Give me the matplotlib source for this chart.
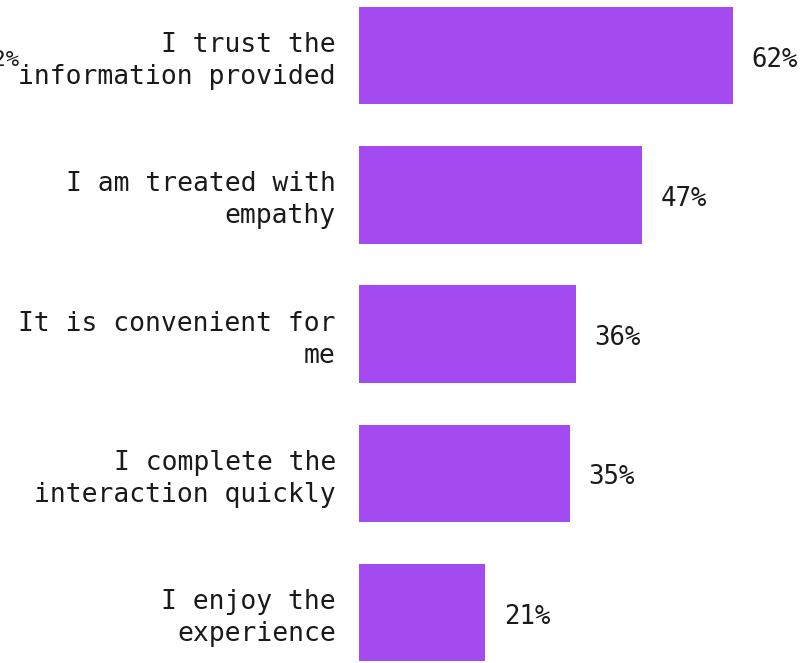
import matplotlib.pyplot as plt

reasons = [
    "I trust the\ninformation provided",
    "I am treated with\nempathy",
    "It is convenient for\nme",
    "I complete the\ninteraction quickly",
    "I enjoy the\nexperience",
]
shares = [62, 47, 36, 35, 21]

purple = "#a44af1"
plt.rcParams["font.family"] = ["DejaVu Sans Mono"]

fig = plt.figure(figsize=(8.11, 6.63), dpi=100)
ax = fig.add_axes([0, 0, 1, 1])
ypos = list(range(len(reasons)))
ax.barh(ypos, shares, height=0.7, color=purple)

for y, label, v in zip(ypos, reasons, shares):
    ax.text(-3.8, y + 0.04, label, ha="right", va="center", fontsize=19,
            multialignment="right", linespacing=1.3, color="#1a1a1a")
    ax.text(v + 3.1, y + 0.03, f"{v}%", ha="left", va="center",
            fontsize=18.5, color="#1a1a1a")

# leftover label that runs off the left edge
fig.text(20 / 811, 1 - 60 / 663, f"{shares[0]}%", ha="right", va="center",
         fontsize=16, color="#1a1a1a")

ax.set_xlim(-59.5, 75.0)
ax.set_ylim(4.363, -0.399)
ax.axis("off")

fig.savefig("out.png", dpi=100)
